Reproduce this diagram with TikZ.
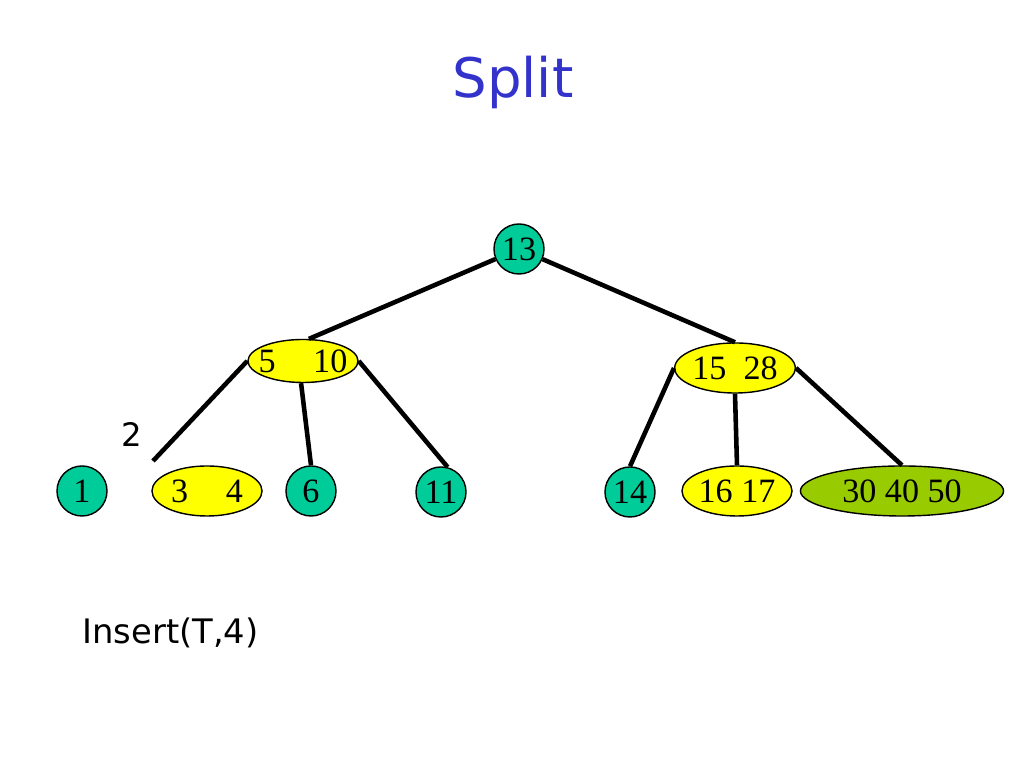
\documentclass[tikz,border=0pt]{standalone}
\usepackage{fontspec}
\setmainfont{Liberation Serif}
\newfontfamily\comicfont{DejaVu Sans}
\usepackage{xcolor}
\usetikzlibrary{shapes.geometric}

\definecolor{keygreen}{RGB}{0,204,153}
\definecolor{keyyellow}{RGB}{255,255,0}
\definecolor{keyolive}{RGB}{153,204,0}
\definecolor{titleblue}{RGB}{51,51,204}

\tikzset{
	keycirc/.style={shape=circle, draw, line width=0.4pt, fill=keygreen, minimum size=0.5cm, inner sep=0pt, font=\fontsize{9.7}{11}\selectfont},
	keyoval/.style={shape=ellipse, draw, line width=0.4pt, fill=keyyellow, minimum width=1.1cm, minimum height=0.5cm, inner sep=0pt, font=\fontsize{9.7}{11}\selectfont},
	treeedge/.style={line width=1.3pt},
}

\begin{document}
\begin{tikzpicture}[x=0.01cm, y=-0.01cm]
	\useasboundingbox (0, 0) rectangle (1024, 768);
	% Title and text:
	\node[text=titleblue, font=\comicfont\fontsize{15.5}{18}\selectfont] (title) at (513, 82){Split};
	\node[font=\comicfont\fontsize{9.6}{11}\selectfont, anchor=west] (insert) at (70, 633){Insert(T,4)};
	\node[font=\comicfont\fontsize{9.2}{11}\selectfont] (two) at (132, 435){2};
	% Nodes:
	\node[keycirc] (n13) at (519, 249){13};
	\node[keyoval, minimum height=0.43cm, inner xsep=-1.6pt] (n510) at (303, 361){5\hspace{1.1em}10};
	\node[keyoval] (n1528) at (735, 368){15\ \ 28};
	\node[keycirc] (n1) at (82, 491){1};
	\node[keyoval, inner xsep=-1pt] (n34) at (207, 491){3\hspace{1.1em}4};
	\node[keycirc] (n6) at (311, 491){6};
	\node[keycirc] (n11) at (441, 492){11};
	\node[keycirc] (n14) at (630, 492){14};
	\node[keyoval] (n1617) at (737, 491){16 17};
	\node[keyoval, fill=keyolive, minimum width=2.03cm] (n304050) at (902, 491){30 40 50};
	\coordinate (gap) at (153, 461);
	% Edges:
	\draw[treeedge] (n13) -- (n510.75);
	\draw[treeedge] (n13) -- (n1528.north);
	\draw[treeedge] (n510.west) -- (gap);
	\draw[treeedge] (n510.265) -- (n6.north);
	\draw[treeedge] (n510.east) -- (n11.75);
	\draw[treeedge] (n1528.west) -- (n14.north);
	\draw[treeedge] (n1528.south) -- (n1617.north);
	\draw[treeedge] (n1528.east) -- (n304050.north);
\end{tikzpicture}
\end{document}
